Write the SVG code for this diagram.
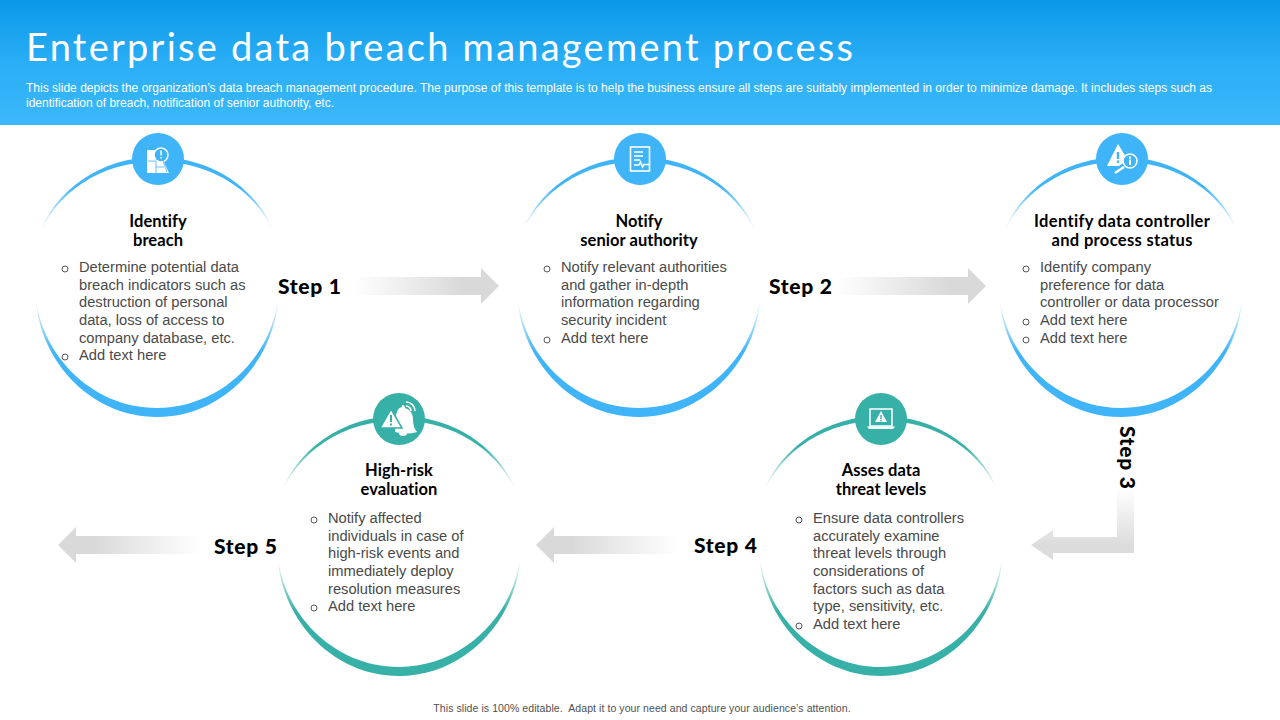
<svg xmlns="http://www.w3.org/2000/svg" width="1280" height="720" viewBox="0 0 1280 720">
<style>
.title{font-family:"Lato","Open Sans",sans-serif;font-size:38px;font-weight:400;fill:#fff}
.sub{font-family:"Liberation Sans",Arial,sans-serif;font-size:12px;fill:#fff}
.head{font-family:"Lato","Inter",sans-serif;font-weight:700;font-size:16.5px;letter-spacing:.05px;fill:#000;text-anchor:middle}
.body{font-family:"Liberation Sans",Arial,sans-serif;font-size:14.7px;fill:#4a4a4a}
.bul{fill:none;stroke:#555;stroke-width:1}
.step{font-family:"Lato","Inter",sans-serif;font-weight:900;font-size:21px;letter-spacing:.7px;fill:#000}
.foot{font-family:"Liberation Sans",Arial,sans-serif;font-size:10.5px;letter-spacing:.08px;fill:#505050;text-anchor:middle;white-space:pre}
.ic{fill:#fff}
.icl{fill:none;stroke:#fff;stroke-width:1.6}
.blue{fill:#3fb4f8}.teal{fill:#37b0a8}
</style>
<defs>
<linearGradient id="hdr" x1="0" y1="0" x2="0" y2="1"><stop offset="0" stop-color="#0a98e8"/><stop offset="0.5" stop-color="#2aaef6"/><stop offset="1" stop-color="#3cb8fb"/></linearGradient>
<linearGradient id="arrR" x1="0" y1="0" x2="1" y2="0"><stop offset="0" stop-color="#dcdcdc" stop-opacity="0"/><stop offset="0.75" stop-color="#d9d9d9"/><stop offset="1" stop-color="#d9d9d9"/></linearGradient>
<linearGradient id="arrL" x1="1" y1="0" x2="0" y2="0"><stop offset="0" stop-color="#dcdcdc" stop-opacity="0"/><stop offset="0.75" stop-color="#d9d9d9"/><stop offset="1" stop-color="#d9d9d9"/></linearGradient>
<linearGradient id="arrD" gradientUnits="userSpaceOnUse" x1="0" y1="488" x2="0" y2="545"><stop offset="0" stop-color="#dcdcdc" stop-opacity="0"/><stop offset="1" stop-color="#dcdcdc"/></linearGradient>
<linearGradient id="tb" x1="0" y1="1" x2="0" y2="0"><stop offset="0.15" stop-color="#3fb4f8" stop-opacity="0"/><stop offset="0.65" stop-color="#3fb4f8"/></linearGradient>
<linearGradient id="bb" x1="0" y1="0" x2="0" y2="1"><stop offset="0.1" stop-color="#3fb4f8" stop-opacity="0"/><stop offset="0.5" stop-color="#3fb4f8"/></linearGradient>
<linearGradient id="tt" x1="0" y1="1" x2="0" y2="0"><stop offset="0.15" stop-color="#37b0a8" stop-opacity="0"/><stop offset="0.65" stop-color="#37b0a8"/></linearGradient>
<linearGradient id="bt" x1="0" y1="0" x2="0" y2="1"><stop offset="0.1" stop-color="#37b0a8" stop-opacity="0"/><stop offset="0.5" stop-color="#37b0a8"/></linearGradient>
<path id="topArc" d="M-121,-45 C-104,-98 -55,-130 0,-130 C55,-130 104,-98 121,-45 C103,-95 55,-125.500 0,-125.500 C-55,-125.500 -103,-95 -121,-45Z"/>
<path id="botArc" d="M-122,0 C-122,72 -67,130 0,130 C67,130 122,72 122,0 C120,66 66,121 0,121 C-66,121 -120,66 -122,0Z"/>
</defs>

<g id="header">
<rect x="0" y="0" width="1280" height="125" fill="url(#hdr)"/>
<text class="title" x="26" y="61" textLength="827" lengthAdjust="spacing">Enterprise data breach management process</text>
<text class="sub" x="26" y="92" textLength="1186" lengthAdjust="spacing">This slide depicts the organization’s data breach management procedure. The purpose of this template is to help the business ensure all steps are suitably implemented in order to minimize damage. It includes steps such as</text>
<text class="sub" x="26" y="106.500" textLength="308" lengthAdjust="spacing">identification of breach, notification of senior authority, etc.</text>
</g>

<g id="connectors">
<path fill="url(#arrR)" d="M352,277H481V268L499,286L481,304V295H352Z"/>
<path fill="url(#arrR)" d="M835,277H968V268L986,286L968,304V295H835Z"/>
<path fill="url(#arrD)" d="M1117,488H1134V553H1053V560L1031,545L1053,530V537H1117Z"/>
<path fill="url(#arrL)" d="M680,536H554V527L536,545L554,563V554H680Z"/>
<path fill="url(#arrL)" d="M202,536H76V527L58,545L76,563V554H202Z"/>
</g>

<g id="step-labels">
<text class="step" x="278" y="294">Step 1</text>
<text class="step" x="769" y="294">Step 2</text>
<text class="step" transform="translate(1120,426) rotate(90)">Step 3</text>
<text class="step" x="694" y="553">Step 4</text>
<text class="step" x="214" y="554">Step 5</text>
</g>

<g id="node-identify-breach">
<use href="#topArc" transform="translate(157,287)" fill="url(#tb)"/>
<use href="#botArc" transform="translate(157,287)" fill="url(#bb)"/>
<circle class="blue" cx="158" cy="159" r="26"/>
<path class="ic" d="M147,150h10v10h6l6,13h-22Z"/>
<circle cx="161" cy="155" r="7" fill="#3fb4f8" stroke="#fff" stroke-width="1.500"/>
<rect class="ic" x="160.300" y="150.500" width="1.500" height="5"/><rect class="ic" x="160.300" y="157" width="1.500" height="1.500"/>
<path d="M148,161h8M156,161v12M156,167h8M163,161l4,11" stroke="#3fb4f8" stroke-width=".8" fill="none"/>
<text class="head"><tspan x="158" y="227">Identify</tspan><tspan x="158" y="246">breach</tspan></text>
<circle class="bul" cx="65" cy="269" r="3"/><circle class="bul" cx="65" cy="357" r="3"/>
<text class="body"><tspan x="79" y="272">Determine potential data</tspan><tspan x="79" y="290">breach indicators such as</tspan><tspan x="79" y="307">destruction of personal</tspan><tspan x="79" y="325">data, loss of access to</tspan><tspan x="79" y="343">company database, etc.</tspan><tspan x="79" y="360">Add text here</tspan></text>
</g>

<g id="node-notify-authority">
<use href="#topArc" transform="translate(639,287)" fill="url(#tb)"/>
<use href="#botArc" transform="translate(639,287)" fill="url(#bb)"/>
<circle class="blue" cx="640" cy="159" r="26"/>
<rect class="icl" x="630.500" y="147" width="19" height="24"/>
<path class="icl" stroke-width="1.200" d="M634,152h9M634,156h9M634,160h6M634,165h5l1.500,-3l2,5l1.500,-2.500h6"/>
<text class="head"><tspan x="639" y="227">Notify</tspan><tspan x="639" y="246">senior authority</tspan></text>
<circle class="bul" cx="547" cy="269" r="3"/><circle class="bul" cx="547" cy="340" r="3"/>
<text class="body"><tspan x="561" y="272">Notify relevant authorities</tspan><tspan x="561" y="290">and gather in-depth</tspan><tspan x="561" y="307">information regarding</tspan><tspan x="561" y="325">security incident</tspan><tspan x="561" y="343">Add text here</tspan></text>
</g>

<g id="node-data-controller">
<use href="#topArc" transform="translate(1121,287)" fill="url(#tb)"/>
<use href="#botArc" transform="translate(1121,287)" fill="url(#bb)"/>
<circle class="blue" cx="1122" cy="159" r="26"/>
<path class="ic" d="M1118,144L1129,162Q1121,163 1119,166H1107Z"/>
<rect x="1116.800" y="152" width="2.400" height="7" fill="#3fb4f8"/><rect x="1116.800" y="160.500" width="2.400" height="2.400" fill="#3fb4f8"/>
<circle cx="1130" cy="161" r="7" fill="#3fb4f8" stroke="#fff" stroke-width="1.600"/>
<rect class="ic" x="1129" y="159.500" width="2" height="5.500"/><rect class="ic" x="1129" y="156.500" width="2" height="2"/>
<path d="M1124,167l-9,6" stroke="#fff" stroke-width="2.500" fill="none"/>
<text class="head"><tspan x="1122" y="227" textLength="176" lengthAdjust="spacing">Identify data controller</tspan><tspan x="1122" y="246" textLength="141" lengthAdjust="spacing">and process status</tspan></text>
<circle class="bul" cx="1026" cy="269" r="3"/><circle class="bul" cx="1026" cy="322" r="3"/><circle class="bul" cx="1026" cy="340" r="3"/>
<text class="body"><tspan x="1040" y="272">Identify company</tspan><tspan x="1040" y="290">preference for data</tspan><tspan x="1040" y="307">controller or data processor</tspan><tspan x="1040" y="325">Add text here</tspan><tspan x="1040" y="343">Add text here</tspan></text>
</g>

<g id="node-threat-levels">
<use href="#topArc" transform="translate(881,546)" fill="url(#tt)"/>
<use href="#botArc" transform="translate(881,546)" fill="url(#bt)"/>
<circle class="teal" cx="881" cy="419" r="26"/>
<rect x="870" y="409" width="22" height="17" fill="none" stroke="#fff" stroke-width="1.500"/>
<path class="ic" d="M867,426.500h28l-2,2.500h-24Z"/>
<path class="ic" d="M881,411l6,11h-12Z"/>
<rect x="880.300" y="415" width="1.400" height="4" fill="#37b0a8"/><rect x="880.300" y="420" width="1.400" height="1.400" fill="#37b0a8"/>
<text class="head"><tspan x="881" y="476">Asses data</tspan><tspan x="881" y="495">threat levels</tspan></text>
<circle class="bul" cx="799" cy="520" r="3"/><circle class="bul" cx="799" cy="626" r="3"/>
<text class="body"><tspan x="813" y="523">Ensure data controllers</tspan><tspan x="813" y="541">accurately examine</tspan><tspan x="813" y="558">threat levels through</tspan><tspan x="813" y="576">considerations of</tspan><tspan x="813" y="594">factors such as data</tspan><tspan x="813" y="611">type, sensitivity, etc.</tspan><tspan x="813" y="629">Add text here</tspan></text>
</g>

<g id="node-high-risk">
<use href="#topArc" transform="translate(399,546)" fill="url(#tt)"/>
<use href="#botArc" transform="translate(399,546)" fill="url(#bt)"/>
<circle class="teal" cx="399" cy="419" r="26"/>
<path class="ic" d="M402,405q3,0 3,3q8,2 8,12q0,7 4,12q-10,3 -22,0l1,-14q0,-10 6,-11Z"/>
<path class="ic" d="M399,433h8a4,3 0 0 1 -8,0Z"/>
<path d="M391,409L402,428H380Z" fill="#fff" stroke="#37b0a8" stroke-width="1.500"/>
<rect x="390" y="415" width="2" height="7" fill="#37b0a8"/><rect x="390" y="423.500" width="2" height="2" fill="#37b0a8"/>
<path class="icl" stroke-width="1.200" d="M406,406a5,5 0 0 1 5,5M406,402a9,9 0 0 1 9,9"/>
<text class="head"><tspan x="399" y="476">High-risk</tspan><tspan x="399" y="495">evaluation</tspan></text>
<circle class="bul" cx="314" cy="520" r="3"/><circle class="bul" cx="314" cy="608" r="3"/>
<text class="body"><tspan x="328" y="523">Notify affected</tspan><tspan x="328" y="541">individuals in case of</tspan><tspan x="328" y="558">high-risk events and</tspan><tspan x="328" y="576">immediately deploy</tspan><tspan x="328" y="594">resolution measures</tspan><tspan x="328" y="611">Add text here</tspan></text>
</g>

<g id="footer"><text class="foot" x="642" y="712">This slide is 100% editable.  Adapt it to your need and capture your audience’s attention.</text></g>
</svg>
